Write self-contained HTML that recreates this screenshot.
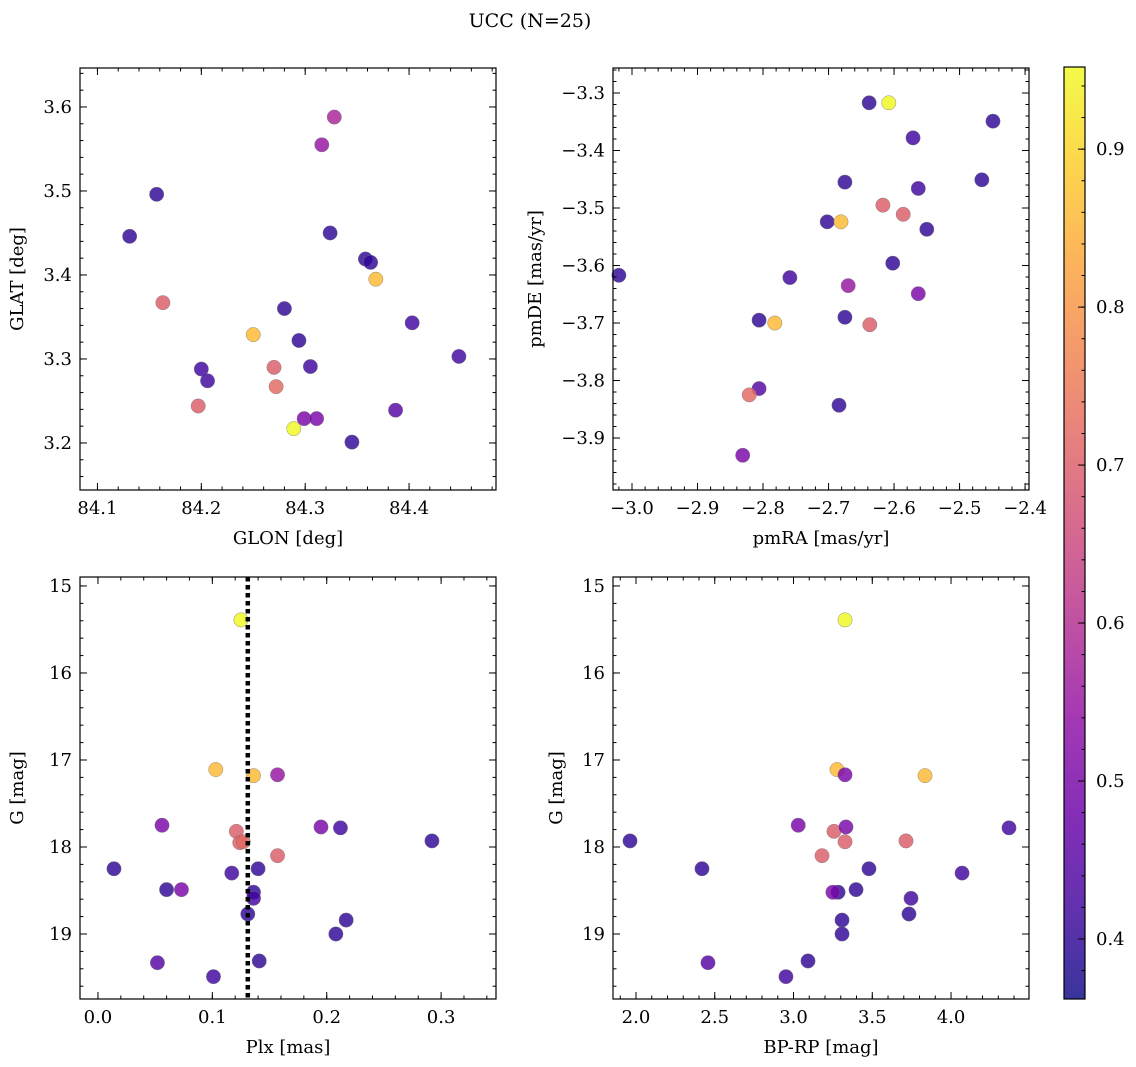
<!DOCTYPE html>
<html><head><meta charset="utf-8"><style>
html,body{margin:0;padding:0;background:#fff}
svg{display:block;font-family:"DejaVu Serif","Liberation Serif",serif}
</style></head><body>
<svg id="fig" width="1136" height="1067" viewBox="0 0 1136 1067" xmlns="http://www.w3.org/2000/svg">
<text x="530" y="27" font-size="19" text-anchor="middle">UCC (N=25)</text>
</svg>
<script>
// Panel 1: GLON / GLAT
const glon=[84.157,84.131,84.163,84.197,84.200,84.206,84.250,84.270,84.272,84.280,84.294,84.289,84.299,84.311,84.305,84.316,84.328,84.324,84.358,84.363,84.368,84.345,84.387,84.403,84.448];
const glat=[3.496,3.446,3.367,3.244,3.288,3.274,3.329,3.290,3.267,3.360,3.322,3.217,3.229,3.229,3.291,3.555,3.588,3.450,3.419,3.415,3.395,3.201,3.239,3.343,3.303];
const prob1=[0.40,0.40,0.70,0.70,0.42,0.42,0.86,0.70,0.72,0.40,0.40,0.95,0.50,0.50,0.42,0.55,0.58,0.40,0.40,0.40,0.86,0.40,0.45,0.42,0.42];
// Panel 2: pmRA / pmDE
const pmra=[-2.638,-2.608,-2.571,-2.449,-2.675,-2.563,-2.466,-2.617,-2.586,-2.702,-2.681,-2.550,-3.020,-2.602,-2.759,-2.670,-2.563,-2.806,-2.782,-2.675,-2.637,-2.806,-2.821,-2.684,-2.831];
const pmde=[-3.317,-3.317,-3.378,-3.349,-3.455,-3.466,-3.451,-3.495,-3.511,-3.524,-3.524,-3.537,-3.617,-3.596,-3.621,-3.635,-3.649,-3.695,-3.700,-3.690,-3.703,-3.814,-3.825,-3.843,-3.930];
const prob2=[0.40,0.95,0.42,0.40,0.40,0.42,0.40,0.70,0.70,0.40,0.86,0.40,0.40,0.40,0.42,0.55,0.50,0.40,0.86,0.40,0.70,0.45,0.72,0.40,0.50];
// Panel 3: Plx / G
const plx=[0.125,0.103,0.136,0.157,0.056,0.121,0.124,0.127,0.157,0.195,0.212,0.292,0.014,0.117,0.140,0.060,0.073,0.136,0.136,0.131,0.217,0.208,0.052,0.141,0.101];
const gmag3=[15.39,17.11,17.18,17.17,17.75,17.82,17.95,17.94,18.10,17.77,17.78,17.93,18.25,18.30,18.25,18.49,18.49,18.52,18.59,18.77,18.84,19.00,19.33,19.31,19.49];
const prob3=[0.95,0.86,0.86,0.55,0.50,0.70,0.70,0.72,0.70,0.50,0.42,0.40,0.40,0.42,0.40,0.40,0.50,0.40,0.42,0.40,0.40,0.40,0.45,0.40,0.42];
const plxLine=0.131;
// Panel 4: BP-RP / G
const bprp=[3.327,3.276,3.327,3.835,3.030,3.257,3.327,3.333,4.368,1.962,3.181,3.714,2.419,3.479,4.070,3.283,3.397,3.746,3.733,3.308,3.308,2.457,3.092,2.952,3.250];
const gmag4=[15.39,17.11,17.17,17.18,17.75,17.82,17.94,17.77,17.78,17.93,18.10,17.93,18.25,18.25,18.30,18.52,18.49,18.59,18.77,18.84,19.00,19.33,19.31,19.49,18.52];
const prob4=[0.95,0.86,0.50,0.86,0.50,0.70,0.70,0.50,0.42,0.40,0.70,0.70,0.40,0.40,0.42,0.40,0.40,0.42,0.40,0.40,0.40,0.45,0.40,0.42,0.50];
// tick labels
const ticks1x=[84.1,84.2,84.3,84.4], ticks1y=[3.2,3.3,3.4,3.5,3.6];
const ticks2x=[-3.0,-2.9,-2.8,-2.7,-2.6,-2.5,-2.4], ticks2y=[-3.9,-3.8,-3.7,-3.6,-3.5,-3.4,-3.3];
const ticks3x=[0.0,0.1,0.2,0.3], ticksGy=[15,16,17,18,19];
const ticks4x=[2.0,2.5,3.0,3.5,4.0];
const cbTicks=[0.4,0.5,0.6,0.7,0.8,0.9];
const vmin=0.362, vmax=0.952;

const NS="http://www.w3.org/2000/svg";
const svg=document.getElementById('fig');
const FS=18;
function el(tag,attrs,parent){const e=document.createElementNS(NS,tag);for(const k in attrs)e.setAttribute(k,attrs[k]);(parent||svg).appendChild(e);return e;}
const stops=[[13,8,135],[65,4,157],[106,0,168],[143,13,164],[177,42,144],[204,71,120],[225,100,98],[242,132,75],[252,166,54],[252,206,37],[240,249,33]];
function plasma(t){t=Math.max(0,Math.min(1,t));const f=t*10,i=Math.min(9,Math.floor(f)),r=f-i;const a=stops[i],b=stops[i+1];return `rgb(${Math.round(a[0]+(b[0]-a[0])*r)},${Math.round(a[1]+(b[1]-a[1])*r)},${Math.round(a[2]+(b[2]-a[2])*r)})`;}
function fmt(v,d){const s=Math.abs(v).toFixed(d);return (v<0?'\u2212':'')+s;}

function panel(cfg){
  const {name,x0,y0,x1,y1,xd,yd,xt,yt,xdec,ydec,xlab,ylab,xs,ys,cs,invY,xstep,ystep}=cfg;
  const g=el('g',{});
  
  
  const X=v=>x0+(v-xd[0])/(xd[1]-xd[0])*(x1-x0);
  const Y=v=>invY? y0+(v-yd[0])/(yd[1]-yd[0])*(y1-y0) : y1-(v-yd[0])/(yd[1]-yd[0])*(y1-y0);
  const pg=el('g',{},g);
  
  
  for(let i=0;i<xs.length;i++){
    const c=el('circle',{cx:X(xs[i]),cy:Y(ys[i]),r:7.2,fill:plasma((cs[i]-vmin)/(vmax-vmin)),'fill-opacity':0.82,stroke:'#777','stroke-width':0.4},pg);
    
    
  }
  if(cfg.vline!==undefined){
    const l=el('line',{x1:X(cfg.vline),x2:X(cfg.vline),y1:y0,y2:y1,stroke:'#000','stroke-width':4.5,'stroke-dasharray':'4.5,3.5'},g);
    
    
  }
  const fr=el('rect',{x:x0,y:y0,width:x1-x0,height:y1-y0,fill:'none',stroke:'#000','stroke-width':1.2},g);
  
  
  const tk=el('g',{stroke:'#000','stroke-width':1},g);
  const xm=xstep/5;
  for(let v=Math.ceil(xd[0]/xm)*xm; v<=xd[1]; v+=xm){const px=X(v);
    el('line',{x1:px,x2:px,y1:y1,y2:y1-3.5},tk);el('line',{x1:px,x2:px,y1:y0,y2:y0+3.5},tk);}
  const ym=ystep/5;
  for(let v=Math.ceil(Math.min(yd[0],yd[1])/ym)*ym; v<=Math.max(yd[0],yd[1]); v+=ym){const py=Y(v);
    el('line',{x1:x0,x2:x0+3.5,y1:py,y2:py},tk);el('line',{x1:x1,x2:x1-3.5,y1:py,y2:py},tk);}
  xt.forEach(v=>{const px=X(v);
    el('line',{x1:px,x2:px,y1:y1,y2:y1-7},tk);el('line',{x1:px,x2:px,y1:y0,y2:y0+7},tk);
    const t=el('text',{x:px,y:y1+24,'font-size':FS,'text-anchor':'middle'},g);t.textContent=fmt(v,xdec);
    
    });
  yt.forEach(v=>{const py=Y(v);
    el('line',{x1:x0,x2:x0+7,y1:py,y2:py},tk);el('line',{x1:x1,x2:x1-7,y1:py,y2:py},tk);
    const t=el('text',{x:x0-8,y:py+6,'font-size':FS,'text-anchor':'end'},g);t.textContent=fmt(v,ydec);
    
    });
  const xl=el('text',{x:(x0+x1)/2,y:y1+54,'font-size':FS,'text-anchor':'middle'},g);xl.textContent=xlab;
  
  
  const yx=cfg.ylx, yy=(y0+y1)/2;
  const yl=el('text',{x:yx,y:yy,'font-size':FS,'text-anchor':'middle',transform:`rotate(-90 ${yx} ${yy})`},g);yl.textContent=ylab;
  
  
}

panel({name:'glon-glat-panel',x0:80,y0:68,x1:496,y1:490,xd:[84.0832,84.4837],yd:[3.1440,3.6464],xt:ticks1x,yt:ticks1y,xdec:1,ydec:1,xstep:0.1,ystep:0.1,xlab:'GLON [deg]',ylab:'GLAT [deg]',ylx:23,xs:glon,ys:glat,cs:prob1});
panel({name:'proper-motion-panel',x0:613,y0:68,x1:1029,y1:490,xd:[-3.029,-2.394],yd:[-3.9904,-3.2565],xt:ticks2x,yt:ticks2y,xdec:1,ydec:1,xstep:0.1,ystep:0.1,xlab:'pmRA [mas/yr]',ylab:'pmDE [mas/yr]',ylx:541,xs:pmra,ys:pmde,cs:prob2});
panel({name:'plx-g-panel',x0:80,y0:577,x1:496,y1:999,xd:[-0.0157,0.348],yd:[14.897,19.747],invY:true,xt:ticks3x,yt:ticksGy,xdec:1,ydec:0,xstep:0.1,ystep:1,xlab:'Plx [mas]',ylab:'G [mag]',ylx:23,xs:plx,ys:gmag3,cs:prob3,vline:plxLine});
panel({name:'color-magnitude-panel',x0:613,y0:577,x1:1029,y1:999,xd:[1.854,4.495],yd:[14.897,19.747],invY:true,xt:ticks4x,yt:ticksGy,xdec:1,ydec:0,xstep:0.5,ystep:1,xlab:'BP-RP [mag]',ylab:'G [mag]',ylx:562,xs:bprp,ys:gmag4,cs:prob4});

(function(){
  const cx0=1064,cx1=1085,cy0=67,cy1=999;
  const defs=el('defs',{});
  const lg=el('linearGradient',{id:'cbg',x1:0,y1:1,x2:0,y2:0},defs);
  for(let k=0;k<=20;k++){const t=k/20;el('stop',{offset:t,'stop-color':plasma(t),'stop-opacity':0.82},lg);}
  const g=el('g',{});
  
  
  el('rect',{x:cx0,y:cy0,width:cx1-cx0,height:cy1-cy0,fill:'url(#cbg)',stroke:'#000','stroke-width':1.2},g);
  const Y=v=>cy1-(v-vmin)/(vmax-vmin)*(cy1-cy0);
  for(let v=0.36;v<=vmax;v+=0.02){if(v<vmin)continue;const py=Y(v);el('line',{x1:cx1,x2:cx1-3.5,y1:py,y2:py,stroke:'#000','stroke-width':1},g);}
  cbTicks.forEach(v=>{const py=Y(v);el('line',{x1:cx1,x2:cx1-7,y1:py,y2:py,stroke:'#000','stroke-width':1},g);
    const t=el('text',{x:cx1+11,y:py+6,'font-size':FS},g);t.textContent=v.toFixed(1);
    
    });
})();
</script>
</body></html>
